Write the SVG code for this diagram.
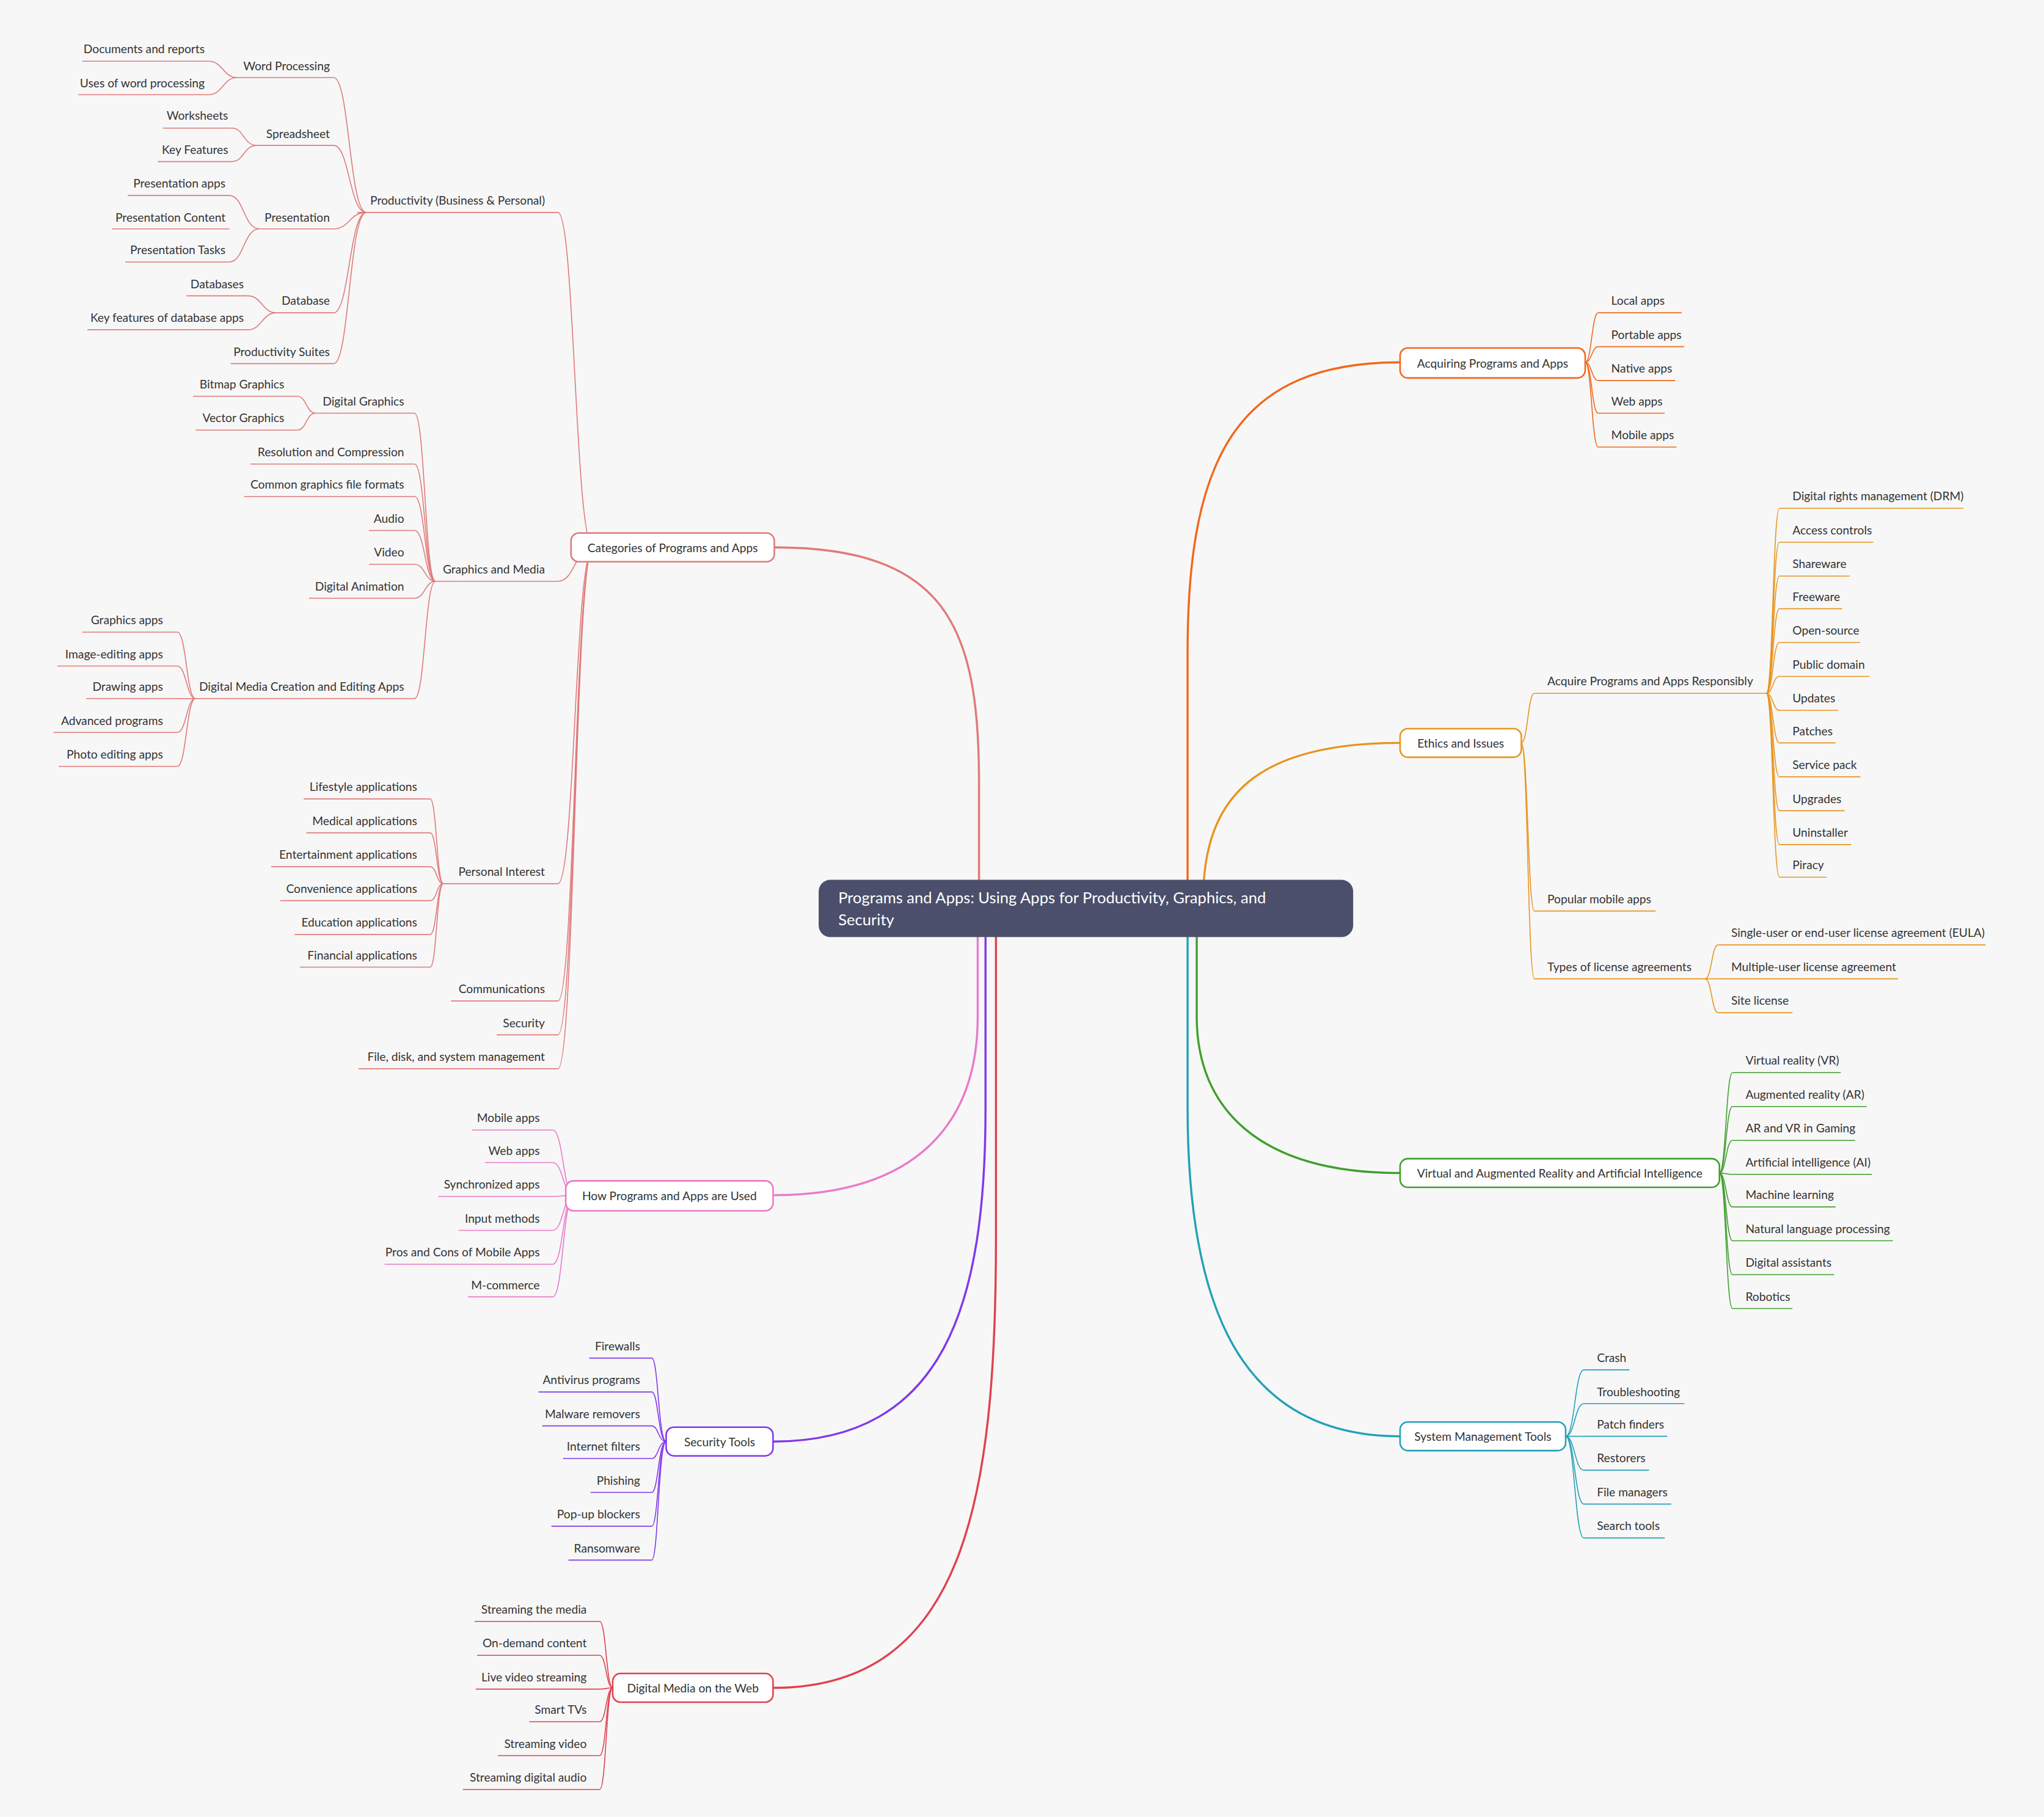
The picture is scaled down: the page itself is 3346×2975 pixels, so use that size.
<svg xmlns="http://www.w3.org/2000/svg" width="3346" height="2975" viewBox="0 0 3346 2975">
<style>
text{font-family:"Source Sans Pro","Lato","Liberation Sans",sans-serif;font-size:9px;fill:#333;stroke:none}
.e{text-anchor:end}.m{text-anchor:middle}
path{fill:none;stroke-width:0.75}
.k path,.k{stroke-width:1.6}
.b{fill:#fff;stroke-width:1.2}
.c1{stroke:#e07a7a}.c2{stroke:#e97ac8}.c3{stroke:#8038ea}.c4{stroke:#e0414f}.c5{stroke:#f2681a}.c6{stroke:#e8941f}.c7{stroke:#3f9f2d}.c8{stroke:#22a1b8}
</style>
<rect width="3346" height="2975" fill="#f7f7f7"/>
<g transform="scale(2.134)">
<g id="connectors">
<g class="k">
<path class="c1" d="M594,420 C725,420 751,480 751,600 L751,697"/>
<path class="c2" d="M593,917 C705,917 750,860 750,780 L750,700"/>
<path class="c3" d="M593,1106 C725,1106 756,1000 756,850 L756,700"/>
<path class="c4" d="M593,1295 C740,1295 764,1150 764,950 L764,700"/>
<path class="c5" d="M1074,278 C950,278 911,350 911,500 L911,697"/>
<path class="c6" d="M1074,570 C965,570 923,610 923,690"/>
<path class="c7" d="M1074,900 C965,900 918,850 918,780 L918,700"/>
<path class="c8" d="M1074,1102 C950,1102 911,1000 911,850 L911,700"/>
</g>
<g class="c1">
<path d="M455,420 C441,420 441,163 428,163"/><path d="M455,420 C441,420 441,446 428,446"/><path d="M455,420 C441,420 441,678 428,678"/><path d="M455,420 C441,420 441,768 428,768"/><path d="M455,420 C441,420 441,794 428,794"/><path d="M455,420 C441,420 441,820 428,820"/>
<path d="M281,163 C268,163 268,59.5 256,59.5"/><path d="M281,163 C268,163 268,111.6 256,111.6"/><path d="M281,163 C268,163 268,175.6 256,175.6"/><path d="M281,163 C268,163 268,240 256,240"/><path d="M281,163 C268,163 268,279 256,279"/>
<path d="M182,59.5 C171,59.5 171,47 160,47"/><path d="M182,59.5 C171,59.5 171,72.6 160,72.6"/>
<path d="M197,111.6 C187,111.6 187,98.3 178,98.3"/><path d="M197,111.6 C187,111.6 187,124 178,124"/>
<path d="M199,175.6 C187,175.6 187,150 176,150"/><path d="M199,175.6 C187,175.6 187,201 176,201"/>
<path d="M212,240 C201,240 201,227 190,227"/><path d="M212,240 C201,240 201,253 190,253"/>
<path d="M334,446 C326,446 326,317 318,317"/><path d="M334,446 C326,446 326,356 318,356"/><path d="M334,446 C326,446 326,381 318,381"/><path d="M334,446 C326,446 326,407 318,407"/><path d="M334,446 C326,446 326,433 318,433"/><path d="M334,446 C326,446 326,459 318,459"/><path d="M334,446 C326,446 326,536 318,536"/>
<path d="M242,317 C235,317 235,304 228,304"/><path d="M242,317 C235,317 235,330 228,330"/>
<path d="M150,536 C143,536 143,485 136,485"/><path d="M150,536 C143,536 143,511 136,511"/><path d="M150,536 C143,536 143,536 136,536"/><path d="M150,536 C143,536 143,562 136,562"/><path d="M150,536 C143,536 143,588 136,588"/>
<path d="M340,678 C335,678 335,613 330,613"/><path d="M340,678 C335,678 335,639 330,639"/><path d="M340,678 C335,678 335,665 330,665"/><path d="M340,678 C335,678 335,691 330,691"/><path d="M340,678 C335,678 335,717 330,717"/><path d="M340,678 C335,678 335,742 330,742"/>
</g>
<g class="c2">
<path d="M440,917 C432,917 432,867 424,867"/><path d="M440,917 C432,917 432,892 424,892"/><path d="M440,917 C432,917 432,918 424,918"/><path d="M440,917 C432,917 432,944 424,944"/><path d="M440,917 C432,917 432,970 424,970"/><path d="M440,917 C432,917 432,995 424,995"/>
</g>
<g class="c3">
<path d="M511,1106 C505,1106 505,1042 500,1042"/><path d="M511,1106 C505,1106 505,1068 500,1068"/><path d="M511,1106 C505,1106 505,1094 500,1094"/><path d="M511,1106 C505,1106 505,1119 500,1119"/><path d="M511,1106 C505,1106 505,1145 500,1145"/><path d="M511,1106 C505,1106 505,1171 500,1171"/><path d="M511,1106 C505,1106 505,1197 500,1197"/>
</g>
<g class="c4">
<path d="M470,1295 C465,1295 465,1244 460,1244"/><path d="M470,1295 C465,1295 465,1270 460,1270"/><path d="M470,1295 C465,1295 465,1296 460,1296"/><path d="M470,1295 C465,1295 465,1321 460,1321"/><path d="M470,1295 C465,1295 465,1347 460,1347"/><path d="M470,1295 C465,1295 465,1373 460,1373"/>
</g>
<g class="c5">
<path d="M1216,278 C1221,278 1221,240 1226,240"/><path d="M1216,278 C1221,278 1221,266 1226,266"/><path d="M1216,278 C1221,278 1221,292 1226,292"/><path d="M1216,278 C1221,278 1221,317 1226,317"/><path d="M1216,278 C1221,278 1221,343 1226,343"/>
</g>
<g class="c6">
<path d="M1167,570 C1172,570 1172,532 1177,532"/><path d="M1167,570 C1172,570 1172,699 1177,699"/><path d="M1167,570 C1172,570 1172,751 1177,751"/>
<path d="M1355,532 C1360,532 1360,390 1365,390"/><path d="M1355,532 C1360,532 1360,416 1365,416"/><path d="M1355,532 C1360,532 1360,442 1365,442"/><path d="M1355,532 C1360,532 1360,467 1365,467"/><path d="M1355,532 C1360,532 1360,493 1365,493"/><path d="M1355,532 C1360,532 1360,519 1365,519"/><path d="M1355,532 C1360,532 1360,545 1365,545"/><path d="M1355,532 C1360,532 1360,570 1365,570"/><path d="M1355,532 C1360,532 1360,596 1365,596"/><path d="M1355,532 C1360,532 1360,622 1365,622"/><path d="M1355,532 C1360,532 1360,648 1365,648"/><path d="M1355,532 C1360,532 1360,673 1365,673"/>
<path d="M1308,751 C1313,751 1313,725 1318,725"/><path d="M1308,751 C1313,751 1313,751 1318,751"/><path d="M1308,751 C1313,751 1313,777 1318,777"/>
</g>
<g class="c7">
<path d="M1319,900 C1324,900 1324,823 1329,823"/><path d="M1319,900 C1324,900 1324,849 1329,849"/><path d="M1319,900 C1324,900 1324,875 1329,875"/><path d="M1319,900 C1324,900 1324,901 1329,901"/><path d="M1319,900 C1324,900 1324,926 1329,926"/><path d="M1319,900 C1324,900 1324,952 1329,952"/><path d="M1319,900 C1324,900 1324,978 1329,978"/><path d="M1319,900 C1324,900 1324,1004 1329,1004"/>
</g>
<g class="c8">
<path d="M1201,1102 C1208,1102 1208,1051 1215,1051"/><path d="M1201,1102 C1208,1102 1208,1077 1215,1077"/><path d="M1201,1102 C1208,1102 1208,1102 1215,1102"/><path d="M1201,1102 C1208,1102 1208,1128 1215,1128"/><path d="M1201,1102 C1208,1102 1208,1154 1215,1154"/><path d="M1201,1102 C1208,1102 1208,1180 1215,1180"/>
</g>
</g>

<g id="root"><rect x="628" y="675" width="410" height="44" rx="9" fill="#4b4f6b"/><text x="643" y="693" style="font-size:12px;fill:#fff">Programs and Apps: Using Apps for Productivity, Graphics, and</text><text x="643" y="710" style="font-size:12px;fill:#fff">Security</text></g>

<g id="categories"><rect class="b c1" x="438" y="409" width="156" height="22" rx="6"/><text class="m" x="516" y="423.5">Categories of Programs and Apps</text></g>
<g id="howused"><rect class="b c2" x="434" y="906" width="159" height="23" rx="6"/><text class="m" x="513.5" y="921">How Programs and Apps are Used</text></g>
<g id="sectools"><rect class="b c3" x="511" y="1095" width="82" height="22" rx="6"/><text class="m" x="552" y="1109.5">Security Tools</text></g>
<g id="dmweb"><rect class="b c4" x="470" y="1284" width="123" height="22" rx="6"/><text class="m" x="531.5" y="1298.5">Digital Media on the Web</text></g>
<g id="acquiring"><rect class="b c5" x="1074" y="267" width="142" height="23" rx="6"/><text class="m" x="1145" y="282">Acquiring Programs and Apps</text></g>
<g id="ethics"><rect class="b c6" x="1074" y="559" width="93" height="22" rx="6"/><text class="m" x="1120.5" y="573.5">Ethics and Issues</text></g>
<g id="vrai"><rect class="b c7" x="1074" y="889" width="245" height="22" rx="6"/><text class="m" x="1196.5" y="903.5">Virtual and Augmented Reality and Artificial Intelligence</text></g>
<g id="sysmgmt"><rect class="b c8" x="1074" y="1091" width="127" height="22" rx="6"/><text class="m" x="1137.5" y="1105.5">System Management Tools</text></g>

<g id="cat-leaves" class="c1">
<g id="n1"><path d="M274,163 H428"/><text x="284" y="157">Productivity (Business &amp; Personal)</text></g>
<g id="n2"><path d="M182,59.5 H256"/><text class="e" x="253" y="54">Word Processing</text></g>
<g id="n3"><path d="M63,47 H160"/><text class="e" x="157" y="41">Documents and reports</text></g>
<g id="n4"><path d="M60,72.6 H160"/><text class="e" x="157" y="67">Uses of word processing</text></g>
<g id="n5"><path d="M197,111.6 H256"/><text class="e" x="253" y="106">Spreadsheet</text></g>
<g id="n6"><path d="M125,98.3 H178"/><text class="e" x="175" y="92">Worksheets</text></g>
<g id="n7"><path d="M121,124 H178"/><text class="e" x="175" y="118">Key Features</text></g>
<g id="n8"><path d="M199,175.6 H256"/><text class="e" x="253" y="170">Presentation</text></g>
<g id="n9"><path d="M98,150 H176"/><text class="e" x="173" y="144">Presentation apps</text></g>
<g id="n10"><path d="M86,175.6 H176"/><text class="e" x="173" y="170">Presentation Content</text></g>
<g id="n11"><path d="M96,201 H176"/><text class="e" x="173" y="195">Presentation Tasks</text></g>
<g id="n12"><path d="M212,240 H256"/><text class="e" x="253" y="234">Database</text></g>
<g id="n13"><path d="M143,227 H190"/><text class="e" x="187" y="221">Databases</text></g>
<g id="n14"><path d="M67,253 H190"/><text class="e" x="187" y="247">Key features of database apps</text></g>
<g id="n15"><path d="M177,279 H256"/><text class="e" x="253" y="273">Productivity Suites</text></g>
<g id="n16"><path d="M334,446 H428"/><text class="e" x="418" y="440">Graphics and Media</text></g>
<g id="n17"><path d="M242,317 H318"/><text class="e" x="310" y="311">Digital Graphics</text></g>
<g id="n18"><path d="M148,304 H228"/><text class="e" x="218" y="298">Bitmap Graphics</text></g>
<g id="n19"><path d="M150,330 H228"/><text class="e" x="218" y="324">Vector Graphics</text></g>
<g id="n20"><path d="M192,356 H318"/><text class="e" x="310" y="350">Resolution and Compression</text></g>
<g id="n21"><path d="M187,381 H318"/><text class="e" x="310" y="375">Common graphics file formats</text></g>
<g id="n22"><path d="M283,407 H318"/><text class="e" x="310" y="401">Audio</text></g>
<g id="n23"><path d="M283,433 H318"/><text class="e" x="310" y="427">Video</text></g>
<g id="n24"><path d="M237,459 H318"/><text class="e" x="310" y="453">Digital Animation</text></g>
<g id="n25"><path d="M150,536 H318"/><text class="e" x="310" y="530">Digital Media Creation and Editing Apps</text></g>
<g id="n26"><path d="M63,485 H136"/><text class="e" x="125" y="479">Graphics apps</text></g>
<g id="n27"><path d="M44,511 H136"/><text class="e" x="125" y="505">Image-editing apps</text></g>
<g id="n28"><path d="M66,536 H136"/><text class="e" x="125" y="530">Drawing apps</text></g>
<g id="n29"><path d="M41,562 H136"/><text class="e" x="125" y="556">Advanced programs</text></g>
<g id="n30"><path d="M45,588 H136"/><text class="e" x="125" y="582">Photo editing apps</text></g>
<g id="n31"><path d="M340,678 H428"/><text class="e" x="418" y="672">Personal Interest</text></g>
<g id="n32"><path d="M233,613 H330"/><text class="e" x="320" y="607">Lifestyle applications</text></g>
<g id="n33"><path d="M235,639 H330"/><text class="e" x="320" y="633">Medical applications</text></g>
<g id="n34"><path d="M208,665 H330"/><text class="e" x="320" y="659">Entertainment applications</text></g>
<g id="n35"><path d="M215,691 H330"/><text class="e" x="320" y="685">Convenience applications</text></g>
<g id="n36"><path d="M226,717 H330"/><text class="e" x="320" y="711">Education applications</text></g>
<g id="n37"><path d="M230,742 H330"/><text class="e" x="320" y="736">Financial applications</text></g>
<g id="n38"><path d="M346,768 H428"/><text class="e" x="418" y="762">Communications</text></g>
<g id="n39"><path d="M381,794 H428"/><text class="e" x="418" y="788">Security</text></g>
<g id="n40"><path d="M275,820 H428"/><text class="e" x="418" y="814">File, disk, and system management</text></g>
</g>

<g id="used-leaves" class="c2">
<g id="u1"><path d="M362,867 H424"/><text class="e" x="414" y="861">Mobile apps</text></g>
<g id="u2"><path d="M372,892 H424"/><text class="e" x="414" y="886">Web apps</text></g>
<g id="u3"><path d="M336,918 H424"/><text class="e" x="414" y="912">Synchronized apps</text></g>
<g id="u4"><path d="M352,944 H424"/><text class="e" x="414" y="938">Input methods</text></g>
<g id="u5"><path d="M295,970 H424"/><text class="e" x="414" y="964">Pros and Cons of Mobile Apps</text></g>
<g id="u6"><path d="M359,995 H424"/><text class="e" x="414" y="989">M-commerce</text></g>
</g>

<g id="sec-leaves" class="c3">
<g id="s1"><path d="M452,1042 H500"/><text class="e" x="491" y="1036">Firewalls</text></g>
<g id="s2"><path d="M413,1068 H500"/><text class="e" x="491" y="1062">Antivirus programs</text></g>
<g id="s3"><path d="M416,1094 H500"/><text class="e" x="491" y="1088">Malware removers</text></g>
<g id="s4"><path d="M432,1119 H500"/><text class="e" x="491" y="1113">Internet filters</text></g>
<g id="s5"><path d="M453,1145 H500"/><text class="e" x="491" y="1139">Phishing</text></g>
<g id="s6"><path d="M423,1171 H500"/><text class="e" x="491" y="1165">Pop-up blockers</text></g>
<g id="s7"><path d="M436,1197 H500"/><text class="e" x="491" y="1191">Ransomware</text></g>
</g>

<g id="web-leaves" class="c4">
<g id="w1"><path d="M364,1244 H460"/><text class="e" x="450" y="1238">Streaming the media</text></g>
<g id="w2"><path d="M366,1270 H460"/><text class="e" x="450" y="1264">On-demand content</text></g>
<g id="w3"><path d="M365,1296 H460"/><text class="e" x="450" y="1290">Live video streaming</text></g>
<g id="w4"><path d="M406,1321 H460"/><text class="e" x="450" y="1315">Smart TVs</text></g>
<g id="w5"><path d="M382,1347 H460"/><text class="e" x="450" y="1341">Streaming video</text></g>
<g id="w6"><path d="M355,1373 H460"/><text class="e" x="450" y="1367">Streaming digital audio</text></g>
</g>

<g id="acq-leaves" class="c5">
<g id="a1"><path d="M1226,240 H1290"/><text x="1236" y="234">Local apps</text></g>
<g id="a2"><path d="M1226,266 H1292"/><text x="1236" y="260">Portable apps</text></g>
<g id="a3"><path d="M1226,292 H1285"/><text x="1236" y="286">Native apps</text></g>
<g id="a4"><path d="M1226,317 H1277"/><text x="1236" y="311">Web apps</text></g>
<g id="a5"><path d="M1226,343 H1286"/><text x="1236" y="337">Mobile apps</text></g>
</g>

<g id="eth-leaves" class="c6">
<g id="e1"><path d="M1177,532 H1355"/><text x="1187" y="526">Acquire Programs and Apps Responsibly</text></g>
<g id="e2"><path d="M1365,390 H1506"/><text x="1375" y="384">Digital rights management (DRM)</text></g>
<g id="e3"><path d="M1365,416 H1437"/><text x="1375" y="410">Access controls</text></g>
<g id="e4"><path d="M1365,442 H1419"/><text x="1375" y="436">Shareware</text></g>
<g id="e5"><path d="M1365,467 H1413"/><text x="1375" y="461">Freeware</text></g>
<g id="e6"><path d="M1365,493 H1427"/><text x="1375" y="487">Open-source</text></g>
<g id="e7"><path d="M1365,519 H1434"/><text x="1375" y="513">Public domain</text></g>
<g id="e8"><path d="M1365,545 H1410"/><text x="1375" y="539">Updates</text></g>
<g id="e9"><path d="M1365,570 H1408"/><text x="1375" y="564">Patches</text></g>
<g id="e10"><path d="M1365,596 H1427"/><text x="1375" y="590">Service pack</text></g>
<g id="e11"><path d="M1365,622 H1415"/><text x="1375" y="616">Upgrades</text></g>
<g id="e12"><path d="M1365,648 H1420"/><text x="1375" y="642">Uninstaller</text></g>
<g id="e13"><path d="M1365,673 H1401"/><text x="1375" y="667">Piracy</text></g>
<g id="e14"><path d="M1177,699 H1270"/><text x="1187" y="693">Popular mobile apps</text></g>
<g id="e15"><path d="M1177,751 H1308"/><text x="1187" y="745">Types of license agreements</text></g>
<g id="e16"><path d="M1318,725 H1523"/><text x="1328" y="719">Single-user or end-user license agreement (EULA)</text></g>
<g id="e17"><path d="M1318,751 H1456"/><text x="1328" y="745">Multiple-user license agreement</text></g>
<g id="e18"><path d="M1318,777 H1375"/><text x="1328" y="771">Site license</text></g>
</g>

<g id="vr-leaves" class="c7">
<g id="v1"><path d="M1329,823 H1412"/><text x="1339" y="817">Virtual reality (VR)</text></g>
<g id="v2"><path d="M1329,849 H1432"/><text x="1339" y="843">Augmented reality (AR)</text></g>
<g id="v3"><path d="M1329,875 H1423"/><text x="1339" y="869">AR and VR in Gaming</text></g>
<g id="v4"><path d="M1329,901 H1436"/><text x="1339" y="895">Artificial intelligence (AI)</text></g>
<g id="v5"><path d="M1329,926 H1408"/><text x="1339" y="920">Machine learning</text></g>
<g id="v6"><path d="M1329,952 H1452"/><text x="1339" y="946">Natural language processing</text></g>
<g id="v7"><path d="M1329,978 H1407"/><text x="1339" y="972">Digital assistants</text></g>
<g id="v8"><path d="M1329,1004 H1375"/><text x="1339" y="998">Robotics</text></g>
</g>

<g id="sys-leaves" class="c8">
<g id="y1"><path d="M1215,1051 H1250"/><text x="1225" y="1045">Crash</text></g>
<g id="y2"><path d="M1215,1077 H1292"/><text x="1225" y="1071">Troubleshooting</text></g>
<g id="y3"><path d="M1215,1102 H1279"/><text x="1225" y="1096">Patch finders</text></g>
<g id="y4"><path d="M1215,1128 H1265"/><text x="1225" y="1122">Restorers</text></g>
<g id="y5"><path d="M1215,1154 H1282"/><text x="1225" y="1148">File managers</text></g>
<g id="y6"><path d="M1215,1180 H1277"/><text x="1225" y="1174">Search tools</text></g>
</g>
</g>
</svg>
